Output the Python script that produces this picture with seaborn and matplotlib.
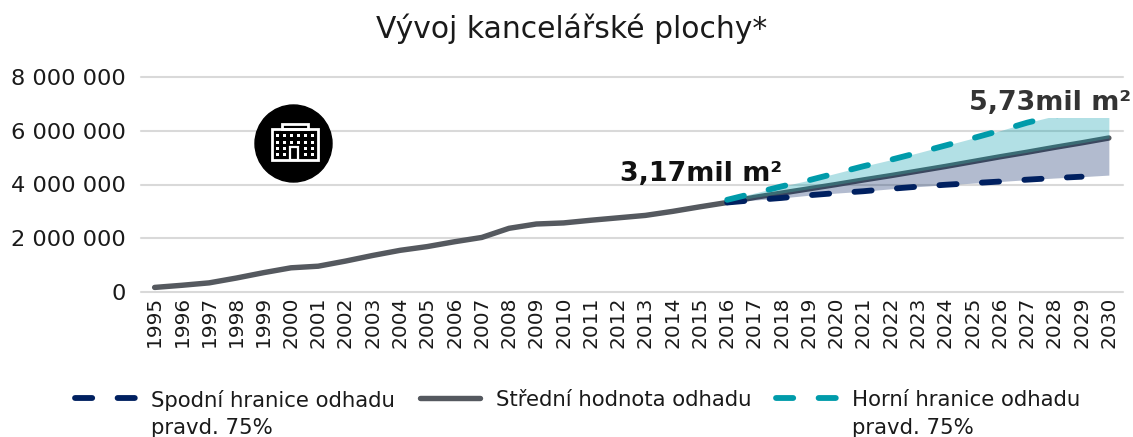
import matplotlib
matplotlib.use("Agg")
import matplotlib.pyplot as plt
from matplotlib.patches import Circle, Rectangle
import pandas as pd
import seaborn as sns

# values, in m2
years = list(range(1995, 2031))
mean_vals = [170000, 250000, 340000, 520000, 720000, 900000, 960000, 1150000, 1360000,
             1550000, 1690000, 1870000, 2030000, 2370000, 2530000, 2570000, 2670000,
             2760000, 2850000, 3000000, 3170000, 3330000, 3520000, 3680000, 3840000,
             4000000, 4170000, 4330000, 4500000, 4670000, 4850000, 5030000, 5200000,
             5380000, 5550000, 5730000]
forecast_years = list(range(2016, 2031))
lower_vals = [3330000, 3420000, 3500000, 3600000, 3680000, 3750000, 3840000, 3920000,
              3990000, 4050000, 4110000, 4180000, 4240000, 4290000, 4350000]
upper_vals = [3430000, 3680000, 3930000, 4160000, 4420000, 4680000, 4920000, 5180000,
              5450000, 5720000, 6000000, 6300000, 6550000, 6800000, 7050000]
y_ticks = [0, 2000000, 4000000, 6000000, 8000000]
y_labels = ["0", "2 000 000", "4 000 000", "6 000 000", "8 000 000"]

NAVY = "#002060"
TEAL = "#009BAA"
GREY = "#55595F"
W, H = 1133, 437

sns.set_theme(style="white")
plt.rcParams['font.family'] = ['DejaVu Sans']

history = pd.DataFrame({"year": years, "value": mean_vals})
forecast = pd.DataFrame({"year": forecast_years, "lower": lower_vals, "upper": upper_vals})
forecast["mean"] = history.set_index("year").loc[forecast_years, "value"].values

fig = plt.figure(figsize=(W / 100, H / 100), dpi=100)
ax = fig.add_axes([141 / W, 1 - 292 / H, (1122.5 - 141) / W, 215 / H])

dash = (0, (2.95, 4.35))
sns.lineplot(data=history, x="year", y="value", ax=ax, color=GREY, linewidth=3.9,
             errorbar=None, solid_capstyle="round", zorder=3,
             label="Střední hodnota odhadu\n ")
ax.fill_between(forecast["year"], forecast["mean"], forecast["upper"], color=TEAL,
                alpha=0.3, linewidth=0, zorder=4)
ax.fill_between(forecast["year"], forecast["lower"], forecast["mean"], color=NAVY,
                alpha=0.3, linewidth=0, zorder=4)
sns.lineplot(data=forecast[forecast["year"] < 2030], x="year", y="lower", ax=ax, color=NAVY,
             linewidth=4.2, errorbar=None, linestyle=dash, dash_capstyle="round", zorder=5,
             label="Spodní hranice odhadu\npravd. 75%")
sns.lineplot(data=forecast, x="year", y="upper", ax=ax, color=TEAL, linewidth=4.2,
             errorbar=None, linestyle=dash, dash_capstyle="round", zorder=5,
             label="Horní hranice odhadu\npravd. 75%")

ax.set_xlim(1994.5, 2030.5)
ax.set_ylim(0, 8000000)
ax.set_xticks(years)
ax.set_xticklabels(years, rotation=90, fontsize=14.5, color="#1a1a1a")
ax.set_yticks(y_ticks)
ax.set_yticklabels(y_labels, fontsize=16.2, color="#1a1a1a")
ax.tick_params(axis="x", length=0, pad=3)
ax.tick_params(axis="y", length=0, pad=11)
ax.set_xlabel("")
ax.set_ylabel("")
ax.grid(axis="y", color="#D9D9D9", linewidth=1.5, zorder=0)
ax.set_axisbelow(True)
for gridline in ax.get_ygridlines():
    gridline.set_clip_on(False)
sns.despine(ax=ax, left=True, bottom=True)

fig.text(572 / W, 1 - 29 / H, "Vývoj kancelářské plochy*", ha="center", va="center",
         fontsize=21.4, color="#1a1a1a")

# the labels sit on white boxes; the top one hides the end of the upper band
ax.annotate("3,17mil m²", xy=(701 / W, 1 - 174 / H), xycoords="figure fraction", ha="center",
            va="center", fontsize=19.4, fontweight="bold", color="#111111", zorder=6)
ax.annotate("5,73mil m²", xy=(1050 / W, 1 - 103 / H), xycoords="figure fraction", ha="center",
            va="center", fontsize=19.4, fontweight="bold", color="#333333", zorder=7,
            bbox=dict(facecolor="white", edgecolor="none", pad=1.3))

# building icon
icon = fig.add_axes([250 / W, 1 - 188 / H, 88 / W, 88 / H])
icon.set_xlim(0, 88)
icon.set_ylim(88, 0)
icon.axis("off")
icon.add_patch(Circle((43.5, 43.5), 38.5, color="black"))
icon.add_patch(Rectangle((22, 29), 46, 31, fill=False, edgecolor="white", linewidth=2))
icon.add_patch(Rectangle((32, 24), 26, 5, fill=False, edgecolor="white", linewidth=2))
for row_y in (34, 41, 47, 53):
    for col_x in (26, 33, 40, 47, 54, 61):
        if row_y > 42 and col_x in (40, 47):
            continue
        icon.add_patch(Rectangle((col_x, row_y), 3, 3, color="white", linewidth=0))
icon.add_patch(Rectangle((40, 47), 8, 13, fill=False, edgecolor="white", linewidth=1.6))

# legend order: lower, mean, upper
handles, labels = ax.get_legend_handles_labels()
order = [1, 0, 2]
leg = ax.legend([handles[i] for i in order], [labels[i] for i in order],
                loc="upper left", bbox_to_anchor=(75 / W, 1 - 390 / H),
                bbox_transform=fig.transFigure, ncol=3, frameon=False, fontsize=15.3,
                handlelength=2.82, handletextpad=0.75, columnspacing=1.18, borderpad=0,
                borderaxespad=0, labelcolor="#1a1a1a")
for text in leg.get_texts():
    text.set_linespacing(1.45)
# keep the key next to the first line of each label
for line in leg.get_lines():
    line.set_ydata([y + 12 for y in line.get_ydata()])

fig.savefig("out.png", dpi=100)
